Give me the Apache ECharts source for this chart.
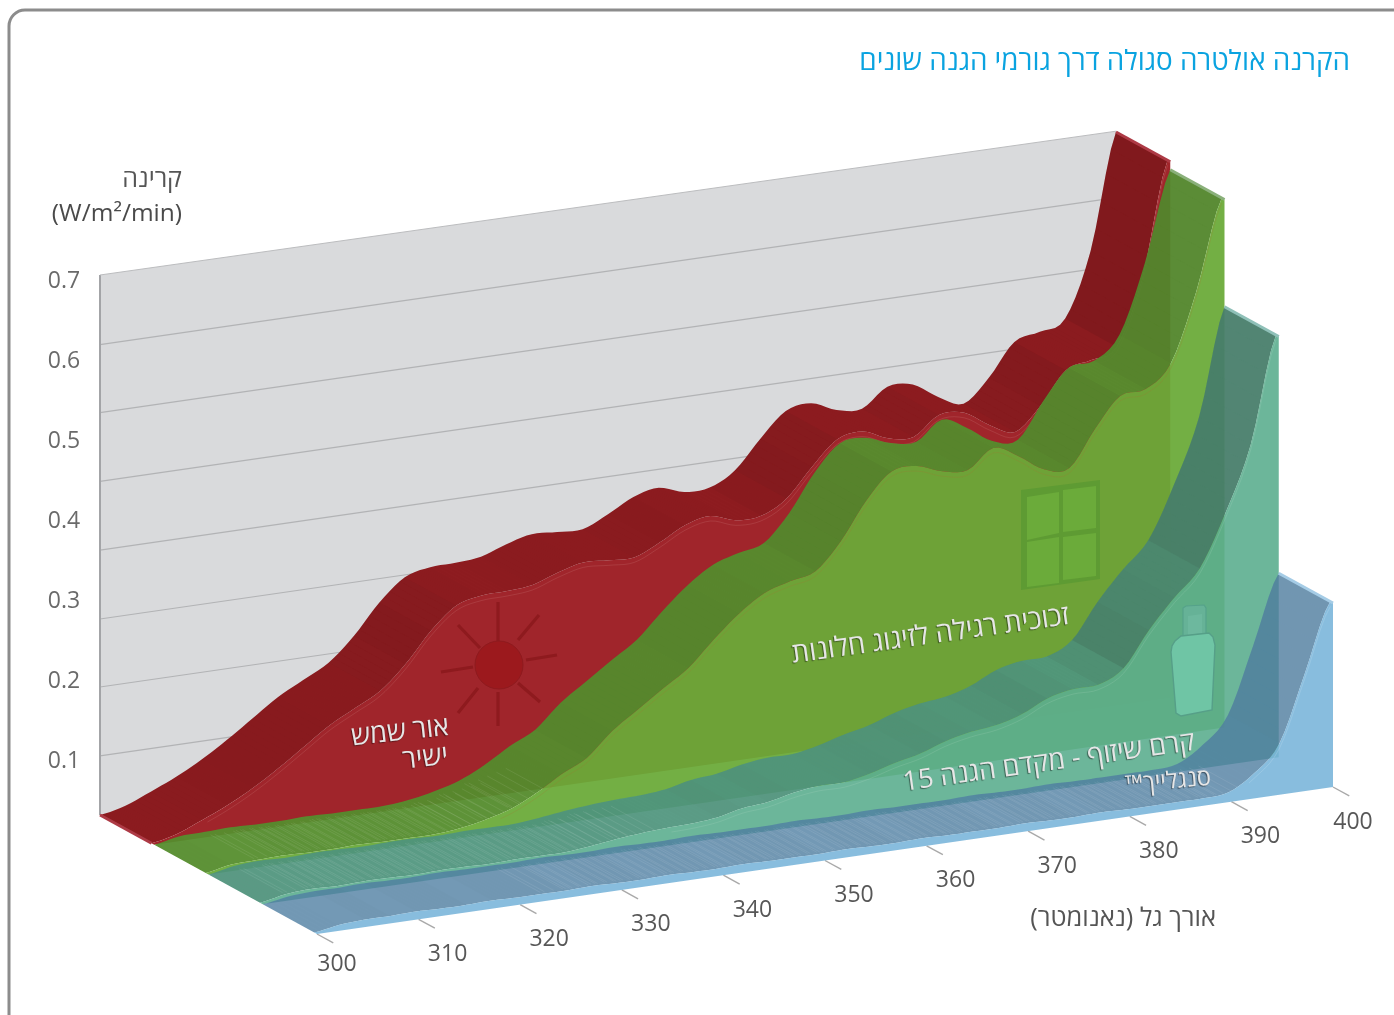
<!DOCTYPE html>
<html><head><meta charset="utf-8">
<style>html,body{margin:0;padding:0;background:#fff}#c{width:1394px;height:1015px}</style>
<script src="https://cdn.jsdelivr.net/npm/echarts@6/dist/echarts.min.js"></script>
</head><body><div id="c"></div>
<script>
const wavelengths=[300,302.5,305,307.5,310,312.5,315,317.5,320,322.5,325,327.5,330,332.5,335,337.5,340,342.5,345,347.5,350,352.5,355,357.5,360,362.5,365,367.5,370,372.5,375,377.5,380,382.5,385,387.5,390,392.5,395,397.5,400];
const directSun=[.030,.037,.050,.064,.081,.101,.123,.145,.162,.179,.208,.245,.272,.280,.281,.284,.295,.303,.301,.300,.314,.331,.338,.328,.329,.346,.381,.411,.416,.403,.400,.423,.421,.401,.388,.416,.456,.464,.476,.556,.700];
const windowGlass=[.030,.036,.037,.038,.037,.037,.038,.037,.037,.037,.040,.046,.055,.070,.089,.105,.134,.156,.178,.199,.230,.258,.279,.289,.297,.330,.376,.408,.410,.399,.396,.419,.404,.383,.380,.424,.461,.465,.493,.578,.690];
const sunscreen=[.030,.036,.038,.037,.038,.038,.037,.038,.038,.037,.038,.038,.038,.041,.045,.048,.050,.051,.054,.061,.064,.071,.075,.075,.081,.090,.097,.108,.115,.119,.128,.143,.150,.151,.167,.210,.246,.278,.342,.423,.556];
const sunglide=[.030,.035,.037,.037,.038,.037,.037,.038,.037,.037,.037,.038,.037,.037,.038,.037,.037,.038,.037,.037,.037,.038,.037,.037,.038,.037,.037,.037,.038,.037,.037,.038,.037,.037,.037,.037,.040,.059,.092,.175,.260];
const xTicks=[300,310,320,330,340,350,360,370,380,390,400];
const yTicks=[0.1,0.2,0.3,0.4,0.5,0.6,0.7];
const wallLines=[.104,.19,.275,.361,.447,.533,.618];
const TEXT='"Open Sans","Liberation Sans","DejaVu Sans",sans-serif';

const Y0=.03,YTOP=.705,SKEW=1.47,DX=54.25,DY=29.75;
const layers=[
 {name:'אור שמש ישיר',vals:directSun,top:'#8e1c20',face:'#a0252b',hair:'rgba(255,225,215,.16)',rim:'#ad3a45',hatch:null,shade:.11},
 {name:'זכוכית רגילה',vals:windowGlass,top:'rgba(86,142,46,.95)',face:'rgba(106,170,56,.94)',hair:'rgba(170,110,50,.3)',rim:'#8ab07a',hatch:[2,13],shade:.06},
 {name:'קרם שיזוף',vals:sunscreen,top:'rgba(80,150,126,.93)',face:'rgba(92,174,143,.9)',hair:'rgba(210,235,220,.2)',rim:'#8fc0b8',hatch:[1,15],shade:.16},
 {name:'סנגלייך',vals:sunglide,top:'rgba(80,128,163,.8)',face:'rgba(120,180,218,.88)',hair:'rgba(215,235,245,.3)',rim:'#a5cce6',hatch:[9,36],shade:.02}
];
function project(api,wl,v,d){
  const p=api.coord([wl,v]);
  return [p[0]+d*DX,p[1]-(wl-300)*SKEW+d*DY];
}
function spline(vals,i,t){
  const a=vals[Math.max(i-1,0)],b=vals[i],c=vals[Math.min(i+1,vals.length-1)],e=vals[Math.min(i+2,vals.length-1)];
  return .5*(2*b+(c-a)*t+(2*a-5*b+4*c-e)*t*t+(3*b-a-3*c+e)*t*t*t);
}
const SUB=5;
function dense(vals){
  const out=[];
  for(let i=0;i<wavelengths.length-1;i++){
    for(let s=0;s<SUB;s++){const t=s/SUB;out.push([wavelengths[i]+(wavelengths[i+1]-wavelengths[i])*t,spline(vals,i,t)]);}
  }
  out.push([wavelengths[wavelengths.length-1],vals[vals.length-1]]);
  return out;
}
function layerRender(L,idx){
  const curve=dense(L.vals),last=wavelengths.length-1;
  return function(params,api){
    const i=params.dataIndex,kids=[];
    const along=(d,dy)=>curve.map(c=>{const p=project(api,c[0],c[1],d);return [p[0],p[1]+(dy||0)];});
    if(i===0){
      kids.push({type:'polygon',z2:1,shape:{points:along(idx).concat(along(idx+.95).reverse())},style:{fill:L.top}});
      if(idx===0){
        const a=project(api,300,Y0,0),b=project(api,300,Y0,.95);
        kids.push({type:'line',z2:6,shape:{x1:a[0],y1:a[1],x2:b[0],y2:b[1]},style:{stroke:L.rim,lineWidth:3}});
      }
    }
    if(i<last){
      const slope=(L.vals[i+1]-L.vals[i])/2.5;
      const alpha=slope>0?L.shade*Math.min(1,slope/.02):.01;
      for(let s=0;s<SUB;s++){
        const c0=curve[i*SUB+s],c1=curve[i*SUB+s+1];
        kids.push({type:'polygon',z2:2,shape:{points:[project(api,c0[0],c0[1],idx),project(api,c1[0],c1[1],idx),project(api,c1[0],c1[1],idx+.95),project(api,c0[0],c0[1],idx+.95)]},style:{fill:'rgba(30,10,10,'+alpha+')'}});
      }
      if(L.hatch&&i>=L.hatch[0]&&i<L.hatch[1]){
        for(let s=0;s<6;s++){
          const k=i*SUB+Math.floor(s*SUB/6),c0=curve[k];
          const a=project(api,c0[0],c0[1],idx+.1),b=project(api,c0[0],c0[1],idx+.9);
          const ox=s*4.2;
          kids.push({type:'line',z2:3,shape:{x1:a[0]+ox,y1:a[1]-ox*.145,x2:b[0]+ox,y2:b[1]-ox*.145},style:{stroke:'rgba(255,255,255,.14)',lineWidth:.6}});
        }
      }
    }
    if(i===last){
      const endV=L.vals[last];
      const poly=along(idx+.95);
      poly.push(project(api,400,endV,idx+1));
      poly.push(project(api,400,Y0,idx+1));
      poly.push(project(api,300,Y0,idx+1));
      kids.push({type:'polygon',z2:4,shape:{points:poly},style:{fill:L.face}});
      const firstHigh=curve.findIndex(c=>c[1]>.05);
      kids.push({type:'polyline',z2:5,shape:{points:along(idx+.95,5).slice(firstHigh)},style:{stroke:L.hair,fill:null,lineWidth:.7}});
      const a=project(api,400,endV,idx),b=project(api,400,endV,idx+1);
      kids.push({type:'line',z2:6,shape:{x1:a[0],y1:a[1],x2:b[0],y2:b[1]},style:{stroke:L.rim,lineWidth:3}});
    }
    return {type:'group',children:kids};
  };
}
const series=[];
series.push({type:'custom',name:'wall',z:1,silent:true,data:wallLines.map(v=>[300,v]),
  renderItem(params,api){
    const v=api.value(1),kids=[];
    if(params.dataIndex===0){
      const pts=[project(api,300,Y0,0),project(api,300,YTOP,0),project(api,400,.701,0),project(api,400,Y0,0)];
      kids.push({type:'polygon',z2:0,shape:{points:pts},style:{fill:'#d9dadc'}});
      kids.push({type:'line',z2:2,shape:{x1:pts[0][0],y1:pts[0][1],x2:pts[1][0],y2:pts[1][1]},style:{stroke:'#a3a4a7',lineWidth:2}});
      kids.push({type:'line',z2:2,shape:{x1:pts[1][0],y1:pts[1][1],x2:pts[2][0],y2:pts[2][1]},style:{stroke:'#bcbdbf',lineWidth:1}});
    }
    const a=project(api,300,v,0),b=project(api,400,v,0);
    kids.push({type:'line',z2:1,shape:{x1:a[0],y1:a[1],x2:b[0],y2:b[1]},style:{stroke:'#b2b3b5',lineWidth:1.2}});
    return {type:'group',children:kids};
  }});
layers.forEach((L,idx)=>{
  series.push({type:'custom',name:L.name,z:3+idx,silent:true,data:wavelengths.map((w,i)=>[w,L.vals[i]]),encode:{x:0,y:1},renderItem:layerRender(L,idx)});
});
series.push({type:'custom',name:'xTicks',z:2,silent:true,data:xTicks.map(w=>[w,Y0]),encode:{x:0,y:1},
  renderItem(params,api){
    const w=api.value(0),a=project(api,w,Y0,4),b=project(api,w,Y0,4.3);
    const ox=(w===300||w===400)?20:29, oy=w===300?30:35;
    return {type:'group',children:[
      {type:'line',shape:{x1:a[0],y1:a[1],x2:b[0],y2:b[1]},style:{stroke:'#a9a9a9',lineWidth:1.4}},
      {type:'text',x:a[0]+ox,y:a[1]+oy,style:{text:String(w),font:'23px '+TEXT,fill:'#575757',textAlign:'center',textVerticalAlign:'middle'}}
    ]};
  }});
series.push({type:'custom',name:'yTicks',z:2,silent:true,data:yTicks.map(v=>[300,v]),encode:{x:0,y:1},
  renderItem(params,api){
    const v=api.value(1),p=api.coord([300,v]);
    return {type:'text',x:p[0]-36,y:p[1]+2,style:{text:v.toFixed(1),font:'23px '+TEXT,fill:'#6a6a6a',textAlign:'center',textVerticalAlign:'middle'}};
  }});
const RLM='\u200f';
function label(text,x,y,size,rot){
  return {type:'text',z:60,x:x,y:y,rotation:rot,style:{text:text+RLM,font:size+'px '+TEXT,fill:'#e6e6e6',textAlign:'right',textVerticalAlign:'middle',textShadowColor:'rgba(0,0,0,.45)',textShadowBlur:1,textShadowOffsetX:-1,textShadowOffsetY:1}};
}
function poly(pts,fill,stroke,lw){return {type:'polygon',z:55,shape:{points:pts},style:{fill:fill,stroke:stroke||null,lineWidth:lw||0}};}
function ray(a,b,c,d){return {type:'line',z:55,shape:{x1:a,y1:b,x2:c,y2:d},style:{stroke:'#8e1a1e',lineWidth:3.2}};}
const graphics=[
 {type:'rect',z:0,shape:{x:9,y:10,width:1500,height:1200,r:16},style:{fill:null,stroke:'#8c8c8c',lineWidth:3}},
 {type:'text',z:60,x:1350,y:62,style:{text:'הקרנה אולטרה סגולה דרך גורמי הגנה שונים'+RLM,font:'27.8px '+TEXT,fill:'#0aa3e0',textAlign:'right',textVerticalAlign:'middle'}},
 {type:'text',z:60,x:182,y:180,style:{text:'קרינה'+RLM,font:'25px '+TEXT,fill:'#555',textAlign:'right',textVerticalAlign:'middle'}},
 {type:'text',z:60,x:182,y:214,style:{text:'(W/m²/min)',font:'24.5px '+TEXT,fill:'#4a4a4a',textAlign:'right',textVerticalAlign:'middle'}},
 {type:'text',z:60,x:1216,y:919,style:{text:'אורך גל (נאנומטר)'+RLM,font:'25.5px '+TEXT,fill:'#555',textAlign:'right',textVerticalAlign:'middle'}},
 // sun
 {type:'circle',z:55,shape:{cx:499,cy:665,r:24},style:{fill:'#9c191d',stroke:'#8e1a1e',lineWidth:1}},
 ray(498,602,498,641),ray(498,692,498,726),ray(441,672,473,667),ray(526,660,557,655),ray(458,625,480,648),ray(539,615,518,640),ray(478,688,458,713),ray(518,683,540,702),
 // window
 poly([[1021,490],[1100,480],[1100,579],[1021,590]],'#5e9b33'),
 poly([[1027,497],[1059,492],[1059,533],[1027,540]],'#6bab3a'),
 poly([[1063,490],[1096,486],[1096,528],[1063,532]],'#6bab3a'),
 poly([[1027,542],[1059,537],[1059,583],[1027,587]],'#6bab3a'),
 poly([[1063,537],[1096,533],[1096,576],[1063,580]],'#6bab3a'),
 // bottle
 poly([[1183,608],[1186,606],[1204,605],[1206,608],[1206,634],[1183,636]],'#66b297','#55a28a',1.2),
 poly([[1188,616],[1202,614],[1202,633],[1188,635]],'#6db89e'),
 poly([[1171,652],[1172,646],[1175,641],[1181,636],[1209,633],[1213,637],[1215,645],[1212,710],[1181,716],[1176,713]],'#6fc5a5','#569f88',1.4),
 label('זכוכית רגילה לזיגוג חלונות',1069,616,27.6,.14),
 label('קרם שיזוף - מקדם הגנה 15',1195,742,26.8,.14),
 label('סנגלייך™',1211,778,23.5,.09),
 label('אור שמש',449,727,27,.11),
 label('ישיר',448,756,27,.11)
];
const chart=echarts.init(document.getElementById('c'),null,{renderer:'canvas'});
chart.setOption({
  animation:false,
  backgroundColor:'#fff',
  grid:{left:100,top:275,width:1016,height:540},
  xAxis:{type:'value',min:300,max:400,show:false},
  yAxis:{type:'value',min:Y0,max:YTOP,show:false},
  tooltip:{show:false},
  graphic:{elements:graphics},
  series:series
});
</script></body></html>
